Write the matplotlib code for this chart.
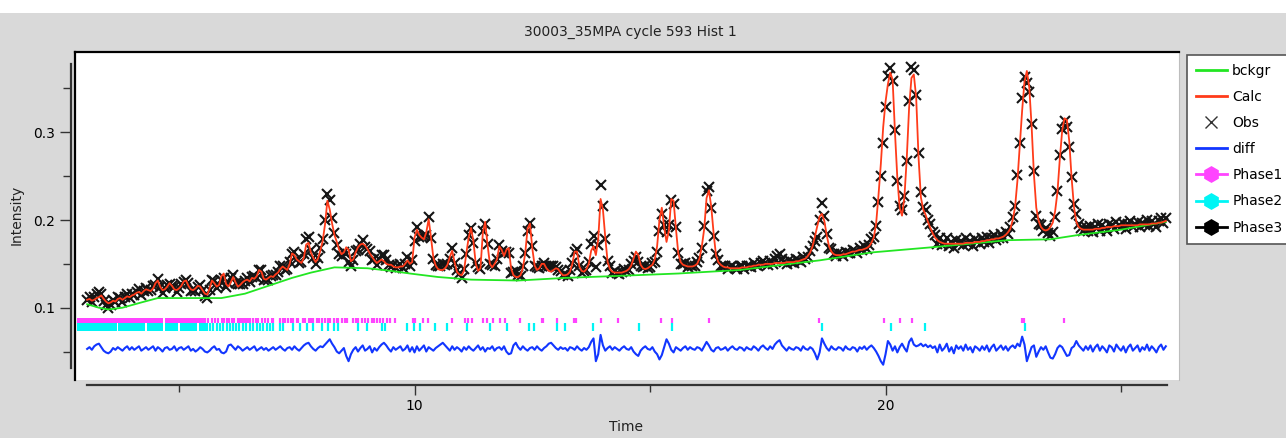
import numpy as np
import matplotlib
matplotlib.use('Agg')
import matplotlib.pyplot as plt
from matplotlib.lines import Line2D
from matplotlib.patches import Rectangle

# %% data (intensities in units of 1e-3)
time = np.linspace(3.05, 25.95, 459)   # sampling step 0.05

calc_milli = [
    109, 110, 108, 109, 111, 112, 114, 110, 107, 105, 106, 108, 107, 110, 111, 109, 111, 113, 112, 114,
    115, 117, 118, 116, 119, 121, 120, 119, 122, 128, 131, 124, 120, 121, 124, 128, 125, 121, 120, 122,
    125, 130, 131, 125, 121, 120, 122, 125, 124, 120, 116, 115, 122, 131, 128, 124, 126, 136, 139, 127,
    124, 129, 135, 129, 124, 126, 129, 131, 132, 130, 134, 133, 136, 143, 141, 133, 132, 134, 136, 135,
    138, 140, 144, 147, 145, 143, 150, 162, 160, 155, 153, 151, 157, 172, 174, 163, 157, 152, 156, 165,
    176, 195, 222, 212, 196, 183, 175, 166, 161, 163, 169, 166, 153, 155, 163, 169, 172, 173, 171, 167,
    162, 158, 154, 151, 153, 155, 153, 150, 149, 149, 147, 146, 146, 147, 147, 150, 154, 150, 152, 180,
    189, 183, 180, 178, 186, 201, 180, 157, 148, 144, 143, 143, 145, 149, 158, 165, 152, 141, 138, 137,
    142, 162, 180, 191, 176, 150, 142, 145, 185, 198, 172, 150, 146, 150, 155, 170, 166, 159, 166, 168,
    145, 137, 135, 135, 137, 145, 162, 190, 196, 168, 148, 143, 145, 150, 150, 145, 142, 141, 143, 145,
    144, 140, 137, 137, 138, 141, 150, 164, 164, 147, 142, 141, 144, 150, 165, 170, 160, 178, 224, 212,
    180, 152, 144, 141, 140, 140, 140, 140, 141, 142, 144, 148, 156, 164, 160, 149, 145, 144, 145, 147,
    149, 155, 170, 200, 214, 192, 175, 188, 224, 222, 190, 162, 152, 149, 148, 147, 147, 147, 148, 150,
    156, 170, 190, 225, 234, 215, 185, 160, 152, 149, 147, 146, 146, 145, 145, 145, 145, 145, 146, 146,
    146, 147, 147, 148, 148, 149, 149, 149, 150, 150, 150, 150, 151, 151, 151, 151, 151, 152, 152, 152,
    152, 153, 153, 154, 155, 156, 159, 163, 170, 181, 193, 204, 207, 199, 183, 170, 164, 161, 160, 160,
    160, 161, 161, 162, 163, 164, 164, 165, 166, 166, 167, 168, 170, 174, 180, 196, 228, 264, 306, 335,
    355, 368, 360, 300, 248, 214, 205, 226, 270, 328, 362, 366, 340, 272, 226, 212, 206, 198, 191, 185,
    180, 177, 175, 174, 173, 173, 173, 173, 173, 173, 173, 173, 173, 174, 174, 174, 174, 175, 175, 175,
    176, 176, 177, 177, 178, 178, 179, 179, 180, 181, 183, 186, 190, 200, 215, 245, 285, 325, 358, 370,
    352, 308, 252, 214, 199, 192, 189, 188, 189, 192, 197, 210, 232, 270, 302, 316, 314, 290, 248, 215,
    198, 192, 190, 189, 189, 189, 189, 189, 190, 190, 190, 191, 191, 192, 192, 192, 193, 193, 193, 194,
    194, 194, 194, 194, 194, 194, 194, 195, 195, 195, 195, 195, 196, 196, 196, 197, 197, 198, 199,
]

# obs - calc
resid_milli = [
    0, 2, -1, 3, 5, 6, 2, -2, -4, -5, -3, 1, -1, 2, 0, -2, 1, 3, -1, 2,
    -1, 1, 3, -2, 0, 2, -1, 1, 3, -2, 2, 0, -3, 1, 2, -1, 0, 3, -2, 1,
    2, -1, 1, 3, -2, 0, -3, -1, 2, 0, -3, -4, -2, 1, 3, -1, 0, -4, -5, -3,
    4, 5, 2, -1, 3, 1, -2, 0, 2, -1, 1, 3, -2, 0, 2, -1, 1, -2, 0, 2,
    -1, 1, 3, 0, -2, 1, 2, -1, 3, 0, -2, 1, 4, 6, 7, 3, 0, -2, 1, 3,
    2, 5, 8, 11, 6, 2, -3, -5, -2, 1, -8, -14, -6, -1, 2, -3, 1, 4, -2, 0,
    3, -4, 1, -2, 2, 5, 7, 4, 0, -3, 2, -1, 1, 3, -2, 0, 4, -3, 2, -4,
    3, -2, 1, 4, -3, 2, 0, -2, 1, 3, 5, 7, 4, 1, -2, 3, -1, 2, 0, -3,
    2, -1, 3, 0, -2, 1, 4, -1, 2, -3, 1, 0, 3, -2, 1, 2, -1, 3, -3, -6,
    -5, 4, 7, 2, -1, 3, 0, -2, 1, 2, -1, 3, 0, -2, 1, 3, 6, 7, 4, 1,
    -1, 2, 0, 1, -2, 2, 1, -1, 3, 0, -2, 1, -1, 2, 8, 12, -14, -6, 16, 4,
    -2, 1, 3, -1, 2, 0, -2, 1, 3, 0, -1, 2, -3, -6, -8, -2, 1, 3, 0, -1,
    2, -3, -6, -12, -7, 2, 11, 6, -1, -4, 2, 0, -2, 1, 3, -1, 2, 0, -1, 2,
    1, -2, 3, 8, 4, -1, -3, 1, 2, -1, 0, 2, -2, 1, 3, 0, -1, 2, 1, -2,
    2, 0, -1, 3, 1, -2, 2, 4, 1, -1, 3, 0, 5, 8, 10, 4, 1, -2, 2, 0,
    -1, 2, 1, -2, 3, 0, -1, 2, 0, -5, -12, -4, 12, 6, 1, -2, 3, 0, -1, 2,
    1, -2, 3, 0, -1, 2, 1, -3, 2, 0, 3, -1, 2, 4, 1, -3, -8, -14, -18, -6,
    9, 5, -2, 3, -4, 2, 6, 1, -3, 8, 12, 5, 3, 4, 6, 3, 5, 2, 4, 1,
    3, -4, 5, -2, 1, 6, -3, 2, -5, 4, 0, 3, -2, 5, -1, 2, -4, 3, 1, -2,
    3, -1, 4, -3, 2, 5, -2, 1, 4, -1, 3, -2, 2, 4, 1, 6, 3, 14, 5, -14,
    -6, 2, 4, -9, -3, 2, -1, 3, -4, -10, -11, -6, 1, 4, 2, -3, -8, -7, 1, 3,
    9, 4, 1, -2, 3, -1, 4, -3, 2, 5, -2, 3, 0, -4, 4, 2, -3, 5, 1, -2,
    3, -4, 2, 5, -2, 1, 4, -3, 2, -1, 5, -2, 3, 0, -4, 2, 5, -1, 3,
]
diff_offset = 0.053

# background knots
bg_time = [3.05, 3.3, 3.5, 3.8, 4.2, 4.55, 5.9, 6.4, 6.9, 7.4, 7.8, 8.3, 9.0, 9.5, 9.9,
           10.5, 11.2, 12.2, 13.2, 14.2, 15.6, 16.9, 18.6, 19.7, 21.0, 22.6, 23.5,
           24.1, 25.0, 25.95]
bg_milli = [104, 100, 98, 100, 106, 111, 111, 116, 125, 134, 140, 146, 145, 142, 139,
            135, 132, 131, 134, 136, 139, 143, 154, 163, 169, 177, 178,
            183, 189, 198]

# reflection tick positions
phase1_spans = [(2.83, 4.66), (4.70, 5.49)]
phase1_ticks = [5.52, 5.55, 5.62, 5.69, 5.76, 5.83, 5.91, 5.96, 6.01, 6.07, 6.12, 6.17,
                6.26, 6.30, 6.33, 6.37, 6.42, 6.47, 6.51, 6.58, 6.63, 6.68, 6.76, 6.83,
                6.90, 6.97, 7.00, 7.14, 7.20, 7.25, 7.32, 7.37, 7.43, 7.50, 7.53, 7.63,
                7.68, 7.75, 7.80, 7.85, 7.92, 7.98, 8.03, 8.10, 8.17, 8.21, 8.28, 8.35,
                8.38, 8.45, 8.52, 8.56, 8.70, 8.76, 8.81, 8.88, 8.95, 9.02, 9.09, 9.13,
                9.20, 9.27, 9.34, 9.41, 9.48, 9.59, 9.97, 10.01, 10.19, 10.29, 10.79,
                11.07, 11.14, 11.21, 11.46, 11.53, 11.67, 11.82, 11.92, 12.24, 12.70,
                12.73, 13.02, 13.39, 13.43, 13.96, 14.32, 15.23, 15.47, 16.25, 18.59,
                19.97, 20.31, 20.56, 22.90, 22.94, 23.79]
phase2_spans = [(2.83, 3.68), (3.70, 4.28), (4.32, 4.66), (4.70, 4.98), (5.02, 5.38),
                (5.42, 5.62)]
phase2_ticks = [5.66, 5.73, 5.80, 5.87, 5.94, 6.01, 6.08, 6.15, 6.22, 6.27, 6.36, 6.43,
                6.50, 6.58, 6.65, 6.72, 6.79, 6.86, 6.93, 7.00, 7.14, 7.21, 7.43, 7.57,
                7.71, 7.85, 8.03, 8.17, 8.28, 8.38, 8.81, 8.99, 9.31, 9.38, 9.84, 9.98,
                10.12, 10.44, 10.69, 11.11, 11.61, 11.96, 12.42, 12.53, 13.02, 13.20,
                13.79, 14.77, 15.47, 18.65, 20.12, 20.84, 22.96]

calc = np.array(calc_milli) / 1000
resid = np.array(resid_milli) / 1000
obs = calc + resid
diff = diff_offset + resid
bckgr = np.array(bg_milli) / 1000

# %% colours
c_bg = '#22e622'
c_calc = '#ff3b1a'
c_diff = '#1236ff'
c_ph1 = '#ff44ff'
c_ph2 = '#00f5f5'
gray = '#d9d9d9'

W, H = 1286, 438
fig = plt.figure(figsize=(W / 100, H / 100), dpi=100, facecolor=gray)
plt.rcParams['font.family'] = ['DejaVu Sans']

# white strip at the very top
fig.patches.append(Rectangle((0, 1 - 13 / H), 1, 13 / H, transform=fig.transFigure,
                             facecolor='white', edgecolor='none', zorder=0))

pos = [75 / W, 1 - 380 / H, (1179 - 75) / W, (380 - 52) / H]
xlim = (2.792, 26.23)
ylim = (0.01756, 0.3916)

# plot frame with data
ax = fig.add_axes(pos, facecolor='white')
ax.set_xlim(*xlim)
ax.set_ylim(*ylim)
ax.set_xticks([])
ax.set_yticks([])
ax.spines['bottom'].set_visible(False)
ax.spines['right'].set_color('#bdbdbd')
ax.spines['left'].set_linewidth(1.6)
ax.spines['top'].set_linewidth(1.6)

ax.plot(time, obs, 'x', color='#151515', markersize=6.5, mew=1.5, zorder=2)
ax.plot(bg_time, bckgr, color=c_bg, lw=1.3, zorder=3)
ax.plot(time, calc, color=c_calc, lw=1.3, zorder=4)
ax.plot(time, diff, color=c_diff, lw=1.5, zorder=3)

y1 = (0.0822, 0.0886)
y2 = (0.0735, 0.0825)
ax.broken_barh([(a, b - a) for a, b in phase1_spans], (y1[0], y1[1] - y1[0]),
               facecolor=c_ph1, zorder=2)
ax.vlines(phase1_ticks, y1[0], y1[1], color=c_ph1, lw=1.6, zorder=2)
ax.broken_barh([(a, b - a) for a, b in phase2_spans], (y2[0], y2[1] - y2[0]),
               facecolor=c_ph2, zorder=2)
ax.vlines(phase2_ticks, y2[0], y2[1], color=c_ph2, lw=1.6, zorder=2)

# detached axes (ticks + labels)
axt = fig.add_axes(pos, facecolor='none')
axt.set_xlim(*xlim)
axt.set_ylim(*ylim)
for side in ['top', 'right']:
    axt.spines[side].set_visible(False)
axt.spines['left'].set_position(('outward', 3))
axt.spines['bottom'].set_position(('outward', 3.6))
axt.spines['left'].set_bounds(0.031, 0.378)
axt.spines['bottom'].set_bounds(3.05, 25.98)
for side in ['left', 'bottom']:
    axt.spines[side].set_linewidth(1.6)
    axt.spines[side].set_color('#333333')
axt.set_yticks([0.1, 0.2, 0.3])
axt.set_yticklabels(['0.1', '0.2', '0.3'])
axt.set_yticks([0.05, 0.15, 0.25, 0.35], minor=True)
axt.set_xticks([10, 20])
axt.set_xticklabels(['10', '20'])
axt.set_xticks([5, 15, 25], minor=True)
axt.tick_params(axis='y', which='major', length=8, width=1, labelsize=10, color='#333333')
axt.tick_params(axis='y', which='minor', length=5.5, width=1, color='#333333')
axt.tick_params(axis='x', which='major', length=7, width=1, labelsize=10, color='#333333',
                pad=3)
axt.tick_params(axis='x', which='minor', length=5, width=1, color='#333333')

fig.text(630 / W, 1 - 32 / H, '30003_35MPA cycle 593 Hist 1', ha='center', va='center',
         fontsize=10, color='#222222')
fig.text(17 / W, 1 - 215 / H, 'Intensity', rotation=90, ha='center', va='center',
         fontsize=10, color='#222222')
fig.text(626 / W, 1 - 427 / H, 'Time', ha='center', va='center', fontsize=10,
         color='#222222')

# legend at the right
handles = [
    Line2D([], [], color=c_bg, lw=2, label='bckgr'),
    Line2D([], [], color=c_calc, lw=2, label='Calc'),
    Line2D([], [], color='#333333', ls='none', marker='x', markersize=8, mew=1,
           label='Obs'),
    Line2D([], [], color=c_diff, lw=2, label='diff'),
    Line2D([], [], color=c_ph1, lw=2, marker='h', markersize=11, label='Phase1'),
    Line2D([], [], color=c_ph2, lw=2, marker='h', markersize=11, label='Phase2'),
    Line2D([], [], color='black', lw=2, marker='h', markersize=11, label='Phase3'),
]
leg = fig.legend(handles=handles, loc='upper left', bbox_to_anchor=(1187 / W, 1 - 55 / H),
                 frameon=True, fancybox=False, edgecolor='#555555', facecolor='white',
                 framealpha=1, fontsize=10, handlelength=2.2, handletextpad=0.4,
                 labelspacing=0.87, borderpad=0.65, borderaxespad=0)
leg.get_frame().set_linewidth(1.2)

fig.savefig('out.png', dpi=100, facecolor=gray)
